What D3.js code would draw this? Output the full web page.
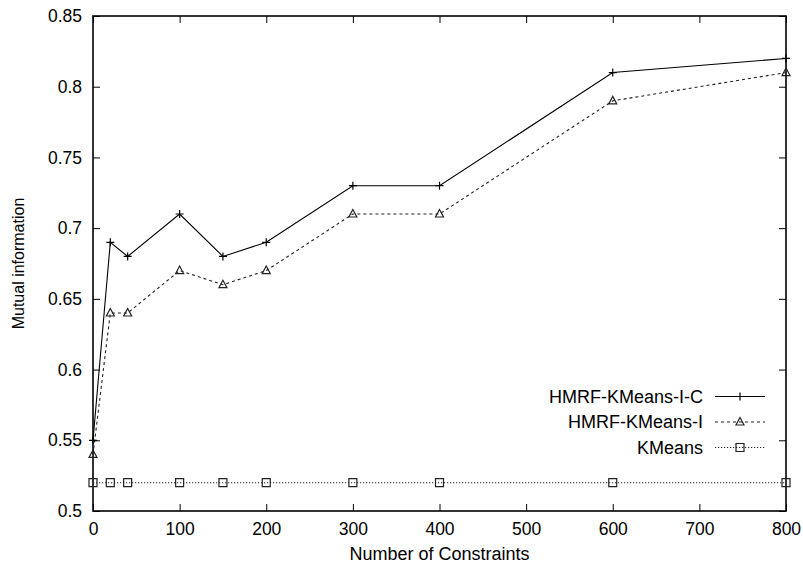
<!DOCTYPE html>
<html>
<head>
<meta charset="utf-8">
<script src="https://cdn.jsdelivr.net/npm/d3@7"></script>
<style>
  body { margin: 0; background: #fff; }
  text { font-family: "Liberation Sans", Arial, sans-serif; fill: #000; }
</style>
</head>
<body>
<svg width="803" height="565"></svg>
<script>
const constraints = [0, 20, 40, 100, 150, 200, 300, 400, 600, 800];
const hmrfIC = [0.55, 0.69, 0.68, 0.71, 0.68, 0.69, 0.73, 0.73, 0.81, 0.82];
const hmrfI = [0.54, 0.64, 0.64, 0.67, 0.66, 0.67, 0.71, 0.71, 0.79, 0.81];
const kmeans = [0.52, 0.52, 0.52, 0.52, 0.52, 0.52, 0.52, 0.52, 0.52, 0.52];
const xTicks = [0, 100, 200, 300, 400, 500, 600, 700, 800];
const yTicks = [0.5, 0.55, 0.6, 0.65, 0.7, 0.75, 0.8, 0.85];

const svg = d3.select('svg');
const margin = {top: 16, right: 17, bottom: 54, left: 93};
const width = +svg.attr('width');
const height = +svg.attr('height');
const innerWidth = width - margin.left - margin.right;
const innerHeight = height - margin.top - margin.bottom;

const xScale = d3.scaleLinear().domain([0, 800]).range([0, innerWidth]);
const yScale = d3.scaleLinear().domain([0.5, 0.85]).range([innerHeight, 0]);

const g = svg.append('g')
	.attr('transform', `translate(${margin.left}, ${margin.top})`);

const tickLen = 7;
const fmt = d => String(+d.toFixed(2));

// axes with inward ticks, mirrored on top and right
const xAxisG = g.append('g')
	.attr('transform', `translate(0, ${innerHeight})`)
	.call(d3.axisBottom(xScale).tickValues(xTicks).tickSize(-tickLen).tickPadding(12).tickFormat(fmt));
const topG = g.append('g')
	.call(d3.axisTop(xScale).tickValues(xTicks).tickSize(-tickLen));
const yAxisG = g.append('g')
	.call(d3.axisLeft(yScale).tickValues(yTicks).tickSize(-tickLen).tickPadding(11).tickFormat(fmt));
const rightG = g.append('g')
	.attr('transform', `translate(${innerWidth}, 0)`)
	.call(d3.axisRight(yScale).tickValues(yTicks).tickSize(-tickLen));

topG.selectAll('.tick text').remove();
rightG.selectAll('.tick text').remove();
g.selectAll('.domain').remove();
g.selectAll('.tick line').attr('stroke', '#000').attr('stroke-width', 1);
g.selectAll('.tick text').style('font-size', '17.5px').attr('fill', '#000');

g.append('rect')
	.attr('width', innerWidth)
	.attr('height', innerHeight)
	.attr('fill', 'none')
	.attr('stroke', '#000')
	.attr('stroke-width', 1.6);

// axis labels
svg.append('text')
	.attr('x', margin.left + innerWidth / 2)
	.attr('y', 560)
	.attr('text-anchor', 'middle')
	.style('font-size', '18px')
	.text('Number of Constraints');

svg.append('text')
	.attr('transform', `translate(24, ${margin.top + innerHeight / 2}) rotate(-90)`)
	.attr('text-anchor', 'middle')
	.style('font-size', '16px')
	.text('Mutual information');

const series = [
	{name: 'HMRF-KMeans-I-C', values: hmrfIC, dash: null, color: '#000', marker: 'plus'},
	{name: 'HMRF-KMeans-I', values: hmrfI, dash: '3,3', color: '#222', marker: 'triangle'},
	{name: 'KMeans', values: kmeans, dash: '1.2,1.8', color: '#222', marker: 'square'}
];

const markerPath = (type) => {
	if (type === 'plus') return 'M-4,0H4M0,-4V4';
	if (type === 'triangle') return 'M0,-4.5L4,3H-4Z';
	return 'M-4,-4H4V4H-4Z';
};

const line = d3.line()
	.x((d, i) => xScale(constraints[i]))
	.y(d => yScale(d));

// draw KMeans first so the others sit on top
series.slice().reverse().forEach(s => {
	g.append('path')
		.datum(s.values)
		.attr('d', line)
		.attr('fill', 'none')
		.attr('stroke', s.color)
		.attr('stroke-width', 1.1)
		.attr('stroke-dasharray', s.dash);

	g.selectAll(null).data(s.values)
		.enter().append('path')
			.attr('transform', (d, i) => `translate(${xScale(constraints[i])}, ${yScale(d)})`)
			.attr('d', markerPath(s.marker))
			.attr('fill', 'none')
			.attr('stroke', s.color)
			.attr('stroke-width', 1.2);
});

// legend
const legend = svg.append('g');
series.forEach((s, i) => {
	const y = 396.5 + i * 25.5;
	legend.append('text')
		.attr('x', 703)
		.attr('y', y)
		.attr('dy', '0.35em')
		.attr('text-anchor', 'end')
		.style('font-size', '18px')
		.text(s.name);
	legend.append('line')
		.attr('x1', 715).attr('x2', 765)
		.attr('y1', y).attr('y2', y)
		.attr('stroke', s.color)
		.attr('stroke-width', 1.1)
		.attr('stroke-dasharray', s.dash);
	legend.append('path')
		.attr('transform', `translate(740, ${y})`)
		.attr('d', markerPath(s.marker))
		.attr('fill', 'none')
		.attr('stroke', s.color)
		.attr('stroke-width', 1.2);
});
</script>
</body>
</html>
